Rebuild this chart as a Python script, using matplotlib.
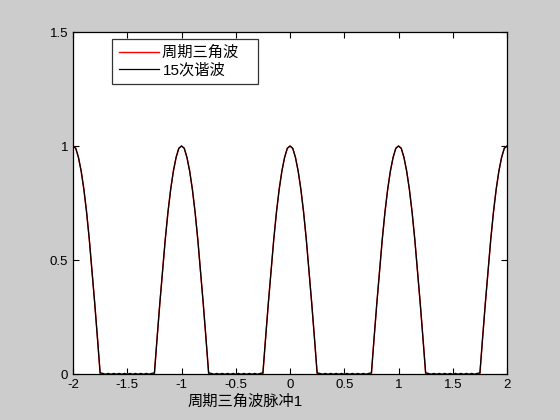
import numpy as np
import matplotlib
matplotlib.use("Agg")
import matplotlib.pyplot as plt

# ---- data, x from -2 to 2 step 0.025 ----
x_start, x_end = -2.0, 2.0
triangle = [
    1.00, 0.99, 0.95, 0.89, 0.81, 0.71, 0.59, 0.45, 0.31, 0.16, 0.00,
    0, 0, 0, 0, 0, 0, 0, 0, 0, 0, 0, 0, 0, 0, 0, 0, 0, 0, 0, 0.00,
    0.16, 0.31, 0.45, 0.59, 0.71, 0.81, 0.89, 0.95, 0.99,
    1.00, 0.99, 0.95, 0.89, 0.81, 0.71, 0.59, 0.45, 0.31, 0.16, 0.00,
    0, 0, 0, 0, 0, 0, 0, 0, 0, 0, 0, 0, 0, 0, 0, 0, 0, 0, 0, 0.00,
    0.16, 0.31, 0.45, 0.59, 0.71, 0.81, 0.89, 0.95, 0.99,
    1.00, 0.99, 0.95, 0.89, 0.81, 0.71, 0.59, 0.45, 0.31, 0.16, 0.00,
    0, 0, 0, 0, 0, 0, 0, 0, 0, 0, 0, 0, 0, 0, 0, 0, 0, 0, 0, 0.00,
    0.16, 0.31, 0.45, 0.59, 0.71, 0.81, 0.89, 0.95, 0.99,
    1.00, 0.99, 0.95, 0.89, 0.81, 0.71, 0.59, 0.45, 0.31, 0.16, 0.00,
    0, 0, 0, 0, 0, 0, 0, 0, 0, 0, 0, 0, 0, 0, 0, 0, 0, 0, 0, 0.00,
    0.16, 0.31, 0.45, 0.59, 0.71, 0.81, 0.89, 0.95, 0.99,
    1.00,
]
harmonic15 = [
    1.00, 0.99, 0.95, 0.89, 0.81, 0.71, 0.59, 0.45, 0.31, 0.16, 0.005,
    0.003, -0.003, 0.003, -0.003, 0.003, -0.003, 0.003, -0.003, 0.003, -0.003,
    0.003, -0.003, 0.003, -0.003, 0.003, -0.003, 0.003, -0.003, 0.003, 0.005,
    0.16, 0.31, 0.45, 0.59, 0.71, 0.81, 0.89, 0.95, 0.99,
    1.00, 0.99, 0.95, 0.89, 0.81, 0.71, 0.59, 0.45, 0.31, 0.16, 0.005,
    0.003, -0.003, 0.003, -0.003, 0.003, -0.003, 0.003, -0.003, 0.003, -0.003,
    0.003, -0.003, 0.003, -0.003, 0.003, -0.003, 0.003, -0.003, 0.003, 0.005,
    0.16, 0.31, 0.45, 0.59, 0.71, 0.81, 0.89, 0.95, 0.99,
    1.00, 0.99, 0.95, 0.89, 0.81, 0.71, 0.59, 0.45, 0.31, 0.16, 0.005,
    0.003, -0.003, 0.003, -0.003, 0.003, -0.003, 0.003, -0.003, 0.003, -0.003,
    0.003, -0.003, 0.003, -0.003, 0.003, -0.003, 0.003, -0.003, 0.003, 0.005,
    0.16, 0.31, 0.45, 0.59, 0.71, 0.81, 0.89, 0.95, 0.99,
    1.00, 0.99, 0.95, 0.89, 0.81, 0.71, 0.59, 0.45, 0.31, 0.16, 0.005,
    0.003, -0.003, 0.003, -0.003, 0.003, -0.003, 0.003, -0.003, 0.003, -0.003,
    0.003, -0.003, 0.003, -0.003, 0.003, -0.003, 0.003, -0.003, 0.003, 0.005,
    0.16, 0.31, 0.45, 0.59, 0.71, 0.81, 0.89, 0.95, 0.99,
    1.00,
]
labels = ["周期三角波", "15次谐波"]
xticks = [-2, -1.5, -1, -0.5, 0, 0.5, 1, 1.5, 2]
xtick_labels = ["-2", "-1.5", "-1", "-0.5", "0", "0.5", "1", "1.5", "2"]
yticks = [0, 0.5, 1, 1.5]
ytick_labels = ["0", "0.5", "1", "1.5"]
xlabel_text = "周期三角波脉冲1"

x = np.linspace(x_start, x_end, len(triangle))

fam = ["Liberation Sans", "Noto Sans CJK SC", "DejaVu Sans"]
plt.rcParams["font.family"] = fam

fig = plt.figure(figsize=(5.6, 4.2), dpi=100, facecolor="#cccccc")
ax = fig.add_axes([0.1304, 0.1095, 0.775, 0.8143])
ax.set_facecolor("white")

ax.plot(x, triangle, color="red", lw=1.0, label=labels[0] + "   ")
ax.plot(x, harmonic15, color="black", lw=0.9, label=labels[1])

ax.set_xlim(-2, 2)
ax.set_ylim(0, 1.5)
ax.set_xticks(xticks)
ax.set_xticklabels(xtick_labels)
ax.set_yticks(yticks)
ax.set_yticklabels(ytick_labels)
ax.tick_params(direction="in", length=4, width=0.8, top=True, right=True,
               labelsize=9.5, pad=3.5, colors="black")
for s in ax.spines.values():
    s.set_linewidth(0.9)
    s.set_color("black")

leg = ax.legend(loc="upper left", bbox_to_anchor=(0.0899, 0.9795),
                frameon=True, fancybox=False, edgecolor="black",
                prop={"family": fam, "size": 11},
                handlelength=2.6, handletextpad=0.25, borderpad=0.45,
                labelspacing=0.2, borderaxespad=0)
leg.get_frame().set_linewidth(0.9)

fig.text(0.334, 0.043, xlabel_text, ha="left", va="center", fontsize=11,
         family=fam, color="black")

fig.savefig("out.png", dpi=100, facecolor=fig.get_facecolor())
